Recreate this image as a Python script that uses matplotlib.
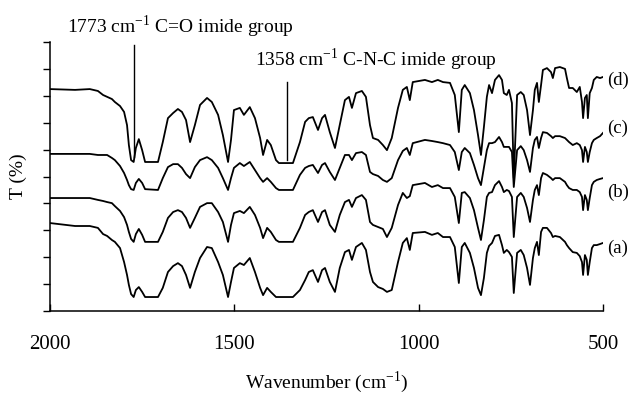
import matplotlib
matplotlib.use("Agg")
import matplotlib.pyplot as plt

plt.rcParams['font.family'] = ['Liberation Serif', 'DejaVu Serif']
plt.rcParams['mathtext.fontset'] = 'custom'
plt.rcParams['mathtext.rm'] = 'Liberation Serif'

# wavenumber grid (cm-1), shared by the four spectra
wn = [2000, 1932, 1892, 1870, 1856, 1845, 1832, 1824, 1810, 1799,
      1791, 1786, 1780, 1773, 1767, 1759, 1750, 1742, 1707, 1694,
      1680, 1666, 1653, 1642, 1631, 1620, 1607, 1593, 1574, 1561,
      1544, 1531, 1517, 1509, 1501, 1485, 1474, 1458, 1444, 1430,
      1422, 1411, 1401, 1387, 1379, 1341, 1322, 1308, 1298, 1287,
      1273, 1262, 1254, 1241, 1227, 1214, 1200, 1189, 1181, 1170,
      1154, 1143, 1132, 1124, 1110, 1097, 1086, 1073, 1056, 1043,
      1032, 1024, 1016, 983, 964, 948, 934, 915, 902, 891,
      883, 875, 861, 850, 839, 831, 823, 815, 809, 801,
      793, 782, 774, 769, 761, 755, 747, 742, 733, 723,
      715, 706, 698, 690, 685, 679, 674, 668, 663, 652,
      641, 636, 630, 617, 603, 598, 592, 582, 571, 563,
      557, 554, 549, 544, 541, 536, 530, 525, 517, 508, 500]

# transmittance traces (offset, arbitrary %)
t_d = [82.5, 82.2, 82.5, 81.8, 80.3, 79.6, 78.8, 77.7, 76.2, 74.0,
       69.1, 61.7, 56.1, 55.4, 60.6, 63.9, 59.8, 55.4, 55.4, 62.8,
       71.7, 73.6, 75.1, 74.0, 71.0, 62.8, 69.1, 76.6, 79.2, 77.7,
       72.9, 65.4, 55.4, 63.6, 74.7, 75.5, 72.9, 75.8, 71.7, 64.3,
       58.0, 63.6, 61.7, 56.1, 55.0, 55.0, 62.8, 70.3, 71.7, 72.1,
       67.3, 71.7, 72.9, 66.5, 60.6, 69.1, 78.4, 79.6, 75.5, 81.0,
       81.8, 79.6, 69.1, 64.3, 63.6, 61.7, 59.8, 64.3, 75.5, 82.2,
       83.3, 78.4, 85.1, 85.9, 85.1, 85.9, 85.1, 84.8, 80.3, 66.5,
       82.2, 84.0, 81.0, 74.7, 65.4, 58.0, 68.4, 79.6, 84.0, 81.0,
       85.9, 87.7, 85.9, 81.0, 80.3, 82.2, 77.3, 49.4, 80.3, 81.4,
       80.3, 74.7, 65.4, 74.7, 82.2, 84.8, 77.7, 84.0, 89.6, 90.3,
       88.8, 86.6, 90.3, 90.7, 90.0, 86.6, 82.9, 82.9, 81.4, 83.3,
       77.7, 71.7, 79.2, 80.3, 71.7, 81.0, 82.9, 85.9, 87.0, 86.6, 87.0]

t_c = [58.4, 58.4, 58.4, 58.0, 58.0, 58.0, 56.9, 56.1, 53.9, 51.3,
       48.7, 46.8, 45.3, 45.0, 47.6, 49.1, 47.6, 45.3, 45.0, 49.4,
       53.5, 54.6, 54.6, 53.2, 50.9, 49.4, 53.5, 56.1, 57.2, 56.1,
       53.2, 49.4, 45.0, 49.4, 53.2, 55.0, 53.9, 55.4, 52.4, 49.4,
       48.0, 49.4, 48.0, 45.7, 45.0, 45.0, 50.6, 53.2, 53.9, 54.3,
       51.3, 54.3, 55.0, 51.7, 48.7, 53.2, 58.0, 58.0, 56.1, 58.7,
       59.1, 58.0, 51.7, 50.9, 50.2, 48.7, 48.0, 49.4, 56.1, 59.5,
       60.6, 58.0, 62.4, 63.6, 63.2, 62.8, 62.4, 61.7, 59.1, 52.4,
       59.1, 60.6, 58.7, 54.3, 49.4, 46.8, 53.2, 59.8, 62.4, 62.4,
       62.8, 64.7, 62.8, 61.0, 61.0, 61.0, 59.1, 46.1, 59.8, 61.3,
       59.8, 56.1, 51.7, 60.6, 63.6, 64.7, 60.6, 64.3, 66.5, 66.2,
       65.0, 64.3, 65.0, 65.0, 64.3, 63.6, 62.8, 61.7, 62.4, 61.7,
       59.8, 55.4, 61.0, 59.1, 55.4, 59.1, 62.4, 63.6, 64.3, 65.0, 66.2]

t_b = [42.0, 42.0, 42.0, 41.3, 40.9, 40.5, 40.1, 39.0, 37.2, 34.9,
       32.0, 29.4, 26.8, 25.7, 28.6, 30.5, 28.3, 25.7, 25.7, 29.4,
       34.6, 36.8, 37.5, 36.8, 34.6, 30.9, 34.6, 38.7, 40.1, 40.1,
       36.8, 33.1, 25.7, 32.0, 36.4, 37.2, 36.4, 38.7, 35.7, 30.9,
       27.1, 30.9, 29.4, 26.4, 25.7, 25.7, 30.9, 35.7, 36.8, 37.5,
       33.1, 36.8, 37.5, 32.0, 29.4, 35.7, 40.5, 41.3, 38.7, 42.0,
       43.1, 41.3, 33.1, 32.0, 31.2, 30.5, 27.5, 30.9, 39.4, 43.9,
       42.0, 42.7, 46.8, 47.6, 46.1, 46.8, 45.7, 45.7, 42.4, 32.7,
       43.9, 44.2, 42.0, 37.5, 30.9, 26.4, 33.8, 42.4, 43.9, 44.2,
       46.8, 48.3, 46.1, 44.2, 45.0, 44.6, 42.4, 27.5, 42.4, 43.9,
       42.4, 38.3, 33.1, 41.3, 45.0, 46.8, 43.1, 49.4, 51.3, 50.6,
       49.4, 48.7, 49.4, 49.4, 48.0, 46.8, 45.7, 45.0, 45.0, 44.2,
       42.4, 37.5, 43.1, 41.3, 37.5, 42.0, 46.8, 48.0, 48.7, 49.1, 49.4]

t_a = [32.7, 31.6, 31.6, 30.9, 28.6, 27.9, 26.4, 25.7, 23.4, 18.2,
       13.4, 9.7, 6.3, 5.2, 7.8, 8.9, 7.1, 5.2, 5.2, 8.6,
       14.5, 16.7, 17.8, 16.7, 13.4, 8.6, 14.5, 19.7, 23.8, 23.4,
       18.2, 13.4, 5.2, 10.8, 16.0, 17.8, 17.1, 19.7, 14.5, 8.6,
       5.9, 8.6, 7.1, 5.2, 5.2, 5.2, 7.8, 11.5, 14.5, 15.2,
       10.8, 15.2, 16.0, 10.8, 7.1, 16.0, 21.9, 22.7, 19.0, 23.8,
       25.3, 22.7, 14.5, 10.8, 8.9, 8.2, 7.1, 7.8, 18.2, 25.3,
       27.1, 22.7, 29.0, 29.4, 28.3, 29.0, 27.5, 27.5, 23.8, 10.4,
       23.8, 25.3, 21.6, 16.0, 8.6, 5.9, 12.3, 21.6, 24.2, 25.3,
       27.9, 28.3, 24.5, 21.6, 22.7, 21.9, 20.1, 6.7, 21.6, 22.7,
       20.8, 16.0, 9.7, 19.7, 23.4, 25.7, 20.8, 29.4, 30.9, 30.9,
       29.0, 27.5, 27.9, 27.5, 25.7, 24.5, 23.4, 21.9, 21.6, 20.4,
       18.2, 13.4, 20.8, 19.0, 13.4, 18.2, 23.4, 24.5, 24.5, 24.9, 25.3]

labels = ['(d)', '(c)', '(b)', '(a)']
label_y = [85.9, 68.0, 44.2, 23.4]

# marked bands
band_wn = [1773, 1358]
band_text = ['1773 cm$^{-1}$ C=O imide group', '1358 cm$^{-1}$ C-N-C imide group']
band_top = [98.9, 85.1]
band_bottom = [57.2, 56.1]
text_y = [105.6, 93.6]
text_x = [1955, 1443]

fig = plt.figure(figsize=(6.35, 3.97), dpi=100, facecolor='white')
ax = fig.add_axes([0.0787, 0.2166, 0.8709, 0.6776])

for t in [t_d, t_c, t_b, t_a]:
    ax.plot(wn, t, color='black', linewidth=1.3)

for i in range(len(band_wn)):
    ax.plot([band_wn[i], band_wn[i]], [band_bottom[i], band_top[i]],
            color='black', linewidth=1.0)
    ax.text(text_x[i], text_y[i], band_text[i], fontsize=14,
            ha='left', va='center', clip_on=False)

for lab, y in zip(labels, label_y):
    ax.text(489, y, lab, fontsize=13.5, ha='left', va='center', clip_on=False)

ax.set_xlim(2000, 500)
ax.set_ylim(0, 100)
ax.set_xticks([2000, 1500, 1000, 500])
ax.set_xticklabels(['2000', '1500', '1000', '500'], fontsize=15)
ax.set_yticks(range(0, 101, 10))
ax.set_yticklabels([])
ax.tick_params(axis='x', direction='in', length=5, width=1, pad=17)
ax.tick_params(axis='y', direction='out', length=5, width=1)

ax.spines['top'].set_visible(False)
ax.spines['right'].set_visible(False)
for s in ['left', 'bottom']:
    ax.spines[s].set_linewidth(1.1)

ax.set_xlabel('Wavenumber (cm$^{-1}$)', fontsize=14, labelpad=11)
ax.set_ylabel('T (%)', fontsize=14, labelpad=8)

plt.savefig('out.png', dpi=100)
